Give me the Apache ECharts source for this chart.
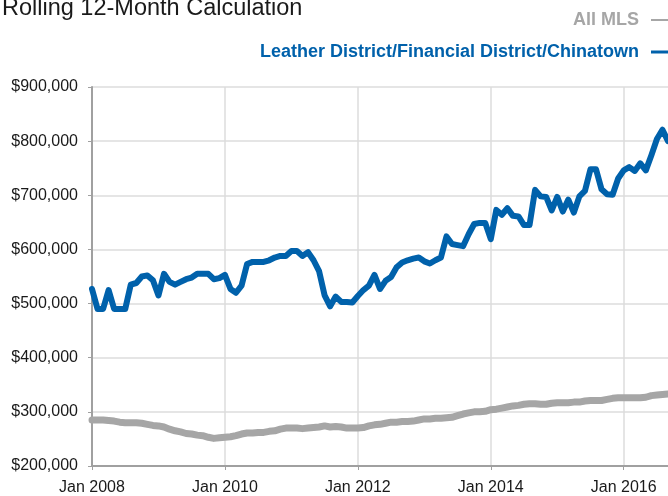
<!DOCTYPE html>
<html>
<head>
<meta charset="utf-8">
<script src="https://cdn.jsdelivr.net/npm/echarts@6/dist/echarts.min.js"></script>
<style>
  html, body { margin: 0; padding: 0; background: #fff; }
  #chart { width: 668px; height: 496px; }
</style>
</head>
<body>
<div id="chart"></div>
<script>
// monthly, Jan 2008 .. Sep 2016
var startYear = 2008;
var monthCount = 105;
var yTicks = [200000, 300000, 400000, 500000, 600000, 700000, 800000, 900000];

// All MLS (thousands of $)
var allMls = [
  285, 285, 285, 284, 283, 281, 280, 280, 280, 279, 277, 275,
  274, 272, 268, 265, 263, 260, 259, 257, 256, 253, 251, 252,
  253, 254, 256, 259, 261, 261, 262, 262, 264, 265, 268, 270,
  270, 270, 269, 270, 271, 272, 274, 272, 273, 272, 270, 270,
  270, 271, 274, 276, 277, 279, 281, 281, 282, 282, 283, 285,
  287, 287, 288, 288, 289, 290, 293, 296, 298, 300, 300, 301,
  304, 305, 307, 309, 311, 312, 314, 315, 315, 314, 314, 316,
  317, 317, 317, 318, 318, 320, 321, 321, 321, 323, 325, 326,
  326, 326, 326, 326, 327, 330, 331, 332, 333
];

// Leather District/Financial District/Chinatown (thousands of $)
var leather = [
  527, 490, 490, 525, 490, 490, 490, 535, 538, 550, 552, 543,
  515, 555, 540, 535, 540, 545, 548, 555, 555, 555, 545, 547,
  553, 527, 520, 533, 573, 577, 577, 577, 580, 585, 588, 588,
  597, 597, 588, 595, 580, 560, 515, 495, 513, 503, 503, 502,
  514, 525, 533, 553, 527, 542, 549, 567, 576, 580, 583, 585,
  578, 574, 580, 585, 624, 610, 608, 606, 628, 647, 649, 649,
  619, 673, 664, 676, 662, 661, 645, 645, 710, 698, 697, 672,
  697, 670, 692, 668, 698, 708, 748, 748, 711, 702, 701, 731,
  746, 752, 745, 759, 746, 774, 804, 821, 800
];

var months = [];
for (var i = 0; i < monthCount; i++) {
  var y = startYear + Math.floor(i / 12);
  var m = i % 12;
  months.push((m === 0 ? "Jan " : "M" + (m + 1) + " ") + y);
}

function toDollars(arr) {
  return arr.map(function (v) { return v * 1000; });
}

var grayColor = "#a6a6a6";
var blueColor = "#0061ab";
var fontMain = "Liberation Sans, Arial, sans-serif";
var fontNarrow = "Liberation Sans Narrow, Liberation Sans, Arial, sans-serif";

// one legend per row so both texts end at the same x
function legendRow(name, color, top, lineH) {
  return {
    right: -14,
    top: top,
    align: "right",
    itemWidth: 26,
    itemHeight: lineH,
    icon: "rect",
    textStyle: {
      color: color,
      fontSize: 18,
      fontWeight: "bold",
      fontFamily: fontNarrow,
      padding: [0, 7, 0, 0]
    },
    data: [name]
  };
}

var chart = echarts.init(document.getElementById("chart"));
var option = {
  animation: false,
  title: {
    text: "Rolling 12-Month Calculation",
    left: -3,
    top: -8,
    textStyle: {
      color: "#1a1a1a",
      fontSize: 23.5,
      fontWeight: "normal",
      fontFamily: fontMain
    }
  },
  legend: [
    legendRow("All MLS", grayColor, 6, 2),
    legendRow("Leather District/Financial District/Chinatown", blueColor, 38, 3)
  ],
  grid: {
    left: 92,
    right: -7,
    top: 87,
    bottom: 20,
    containLabel: false
  },
  xAxis: {
    type: "category",
    boundaryGap: false,
    data: months,
    axisLine: { lineStyle: { color: "#a0a0a0", width: 2 } },
    axisTick: { interval: 23, length: 4, lineStyle: { color: "#a0a0a0" } },
    splitLine: { show: true, interval: 23, lineStyle: { color: "#dcdcdc", width: 1.5 } },
    axisLabel: {
      interval: 23,
      margin: 14,
      color: "#1a1a1a",
      fontSize: 16,
      fontFamily: fontMain
    }
  },
  yAxis: {
    type: "value",
    min: yTicks[0],
    max: yTicks[yTicks.length - 1],
    interval: 100000,
    axisLine: { show: true, lineStyle: { color: "#a0a0a0", width: 2 } },
    axisTick: { show: true, length: 4, lineStyle: { color: "#a0a0a0" } },
    splitLine: { lineStyle: { color: "#dcdcdc", width: 1.5 } },
    axisLabel: {
      margin: 14,
      color: "#1a1a1a",
      fontSize: 16,
      fontFamily: fontMain,
      formatter: function (v) {
        return "$" + v.toString().replace(/\B(?=(\d{3})+(?!\d))/g, ",");
      }
    }
  },
  series: [
    {
      name: "All MLS",
      type: "line",
      data: toDollars(allMls),
      showSymbol: false,
      symbol: "none",
      itemStyle: { color: grayColor },
      lineStyle: { color: grayColor, width: 7, join: "round", cap: "round" }
    },
    {
      name: "Leather District/Financial District/Chinatown",
      type: "line",
      data: toDollars(leather),
      showSymbol: false,
      symbol: "none",
      itemStyle: { color: blueColor },
      lineStyle: { color: blueColor, width: 6, join: "round", cap: "round" }
    }
  ]
};
chart.setOption(option);
</script>
</body>
</html>
